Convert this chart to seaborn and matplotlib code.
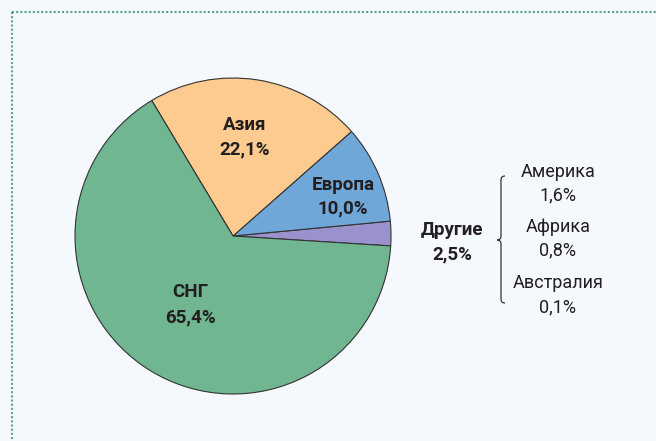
import matplotlib
matplotlib.use("Agg")
import matplotlib.pyplot as plt
import seaborn as sns
from matplotlib.path import Path
from matplotlib.patches import PathPatch
from matplotlib.lines import Line2D

sns.set_theme(style="white")
plt.rcParams['font.family'] = ['Roboto', 'DejaVu Sans']

regions = ["Другие", "Европа", "Азия", "СНГ"]
shares = [2.5, 10.0, 22.1, 65.4]
share_labels = ["2,5%", "10,0%", "22,1%", "65,4%"]
other_regions = ["Америка", "Африка", "Австралия"]
other_labels = ["1,6%", "0,8%", "0,1%"]

colors = ["#9a92cc", "#70a7d9", "#fdca8f", "#6fb691"]
bg = "#f5f9fd"

W, H = 656, 441
fig = plt.figure(figsize=(W / 100, H / 100), dpi=100, facecolor=bg)
ax = fig.add_axes([0, 0, 1, 1])
ax.set_facecolor(bg)

cx, cy, r = 233, 236, 158
wedges, _ = ax.pie(shares, colors=colors, startangle=3.6, counterclock=False,
                   center=(cx, cy), radius=r, frame=True,
                   wedgeprops=dict(edgecolor="#333333", linewidth=0.8))
ax.set_xlim(0, W)
ax.set_ylim(H, 0)
ax.set_aspect("equal")
ax.axis("off")

txt = dict(ha="center", va="center", color="#231f20", fontsize=13.5, fontweight="bold")
pos = {"Азия": (245, 125, 149), "Европа": (343, 185, 208), "СНГ": (190, 292, 317),
       "Другие": (452, 230, 254)}
for name, lab in zip(regions, share_labels):
    x, y1, y2 = pos[name]
    ax.text(x, y1, name, **txt)
    ax.text(x, y2, lab, **txt)

reg = dict(ha="center", va="center", color="#231f20", fontsize=13)
ys = [(172, 195), (227, 250), (283, 307)]
for name, lab, (y1, y2) in zip(other_regions, other_labels, ys):
    ax.text(558, y1, name, **reg)
    ax.text(558, y2, lab, **reg)

# curly brace
bx, top, mid, bot = 501, 176, 240, 303
verts = [(bx + 4, top), (bx, top), (bx, top + 4),
         (bx, mid - 4), (bx, mid), (bx - 4, mid),
         (bx, mid), (bx, mid + 4),
         (bx, bot - 4), (bx, bot), (bx + 4, bot)]
codes = [Path.MOVETO, Path.CURVE3, Path.CURVE3,
         Path.LINETO, Path.CURVE3, Path.CURVE3,
         Path.CURVE3, Path.CURVE3,
         Path.LINETO, Path.CURVE3, Path.CURVE3]
ax.add_patch(PathPatch(Path(verts, codes), fill=False, edgecolor="#333333", lw=0.9))

# dotted frame (top and left)
ax.add_line(Line2D([11.5, W], [12, 12], color="#5aa58a", lw=1.5, ls=(0, (1, 1))))
ax.add_line(Line2D([11.5, 11.5], [12, H], color="#5aa58a", lw=1.5, ls=(0, (1, 1))))

fig.savefig("out.png", dpi=100, facecolor=bg)
